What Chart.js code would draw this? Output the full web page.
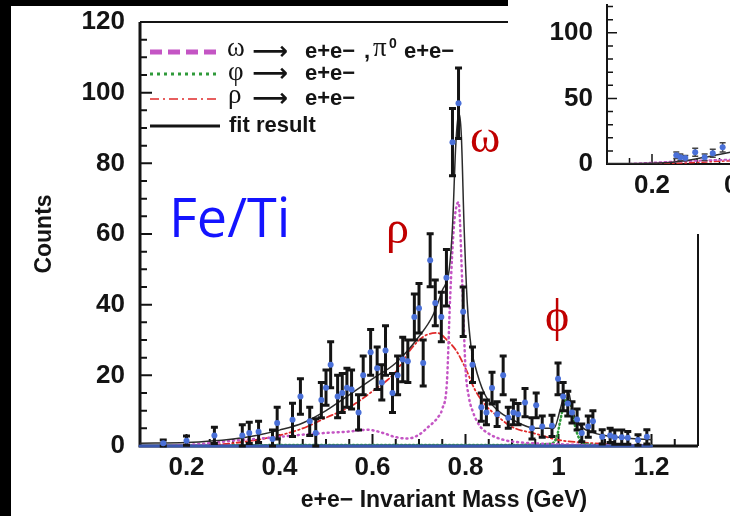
<!DOCTYPE html>
<html>
<head>
<meta charset="utf-8">
<script src="https://cdn.jsdelivr.net/npm/chart.js@4.4.1/dist/chart.umd.min.js"></script>
<style>
  html, body { margin: 0; padding: 0; background: #000; overflow: hidden; }
  #wrap { position: relative; width: 730px; height: 516px; overflow: hidden; }
  #main { position: absolute; left: 0; top: 0; }
  #inset { position: absolute; left: 508px; top: 0; }
</style>
</head>
<body>
<div id="wrap">
  <canvas id="main" width="730" height="516" style="width:730px;height:516px"></canvas>
  <canvas id="inset" width="283" height="234" style="width:283px;height:234px"></canvas>
</div>
<script>
// ---- Fe/Ti e+e- mass spectrum ----
const massBins = [
  0.150, 0.200, 0.260, 0.320, 0.335, 0.355, 0.385, 0.395, 0.428, 0.445,
  0.465, 0.478, 0.490, 0.500, 0.510, 0.525, 0.535, 0.545, 0.555, 0.570,
  0.580, 0.596, 0.610, 0.620, 0.628, 0.643, 0.654, 0.665, 0.676, 0.690,
  0.700, 0.709, 0.724, 0.735, 0.748, 0.759, 0.772, 0.785, 0.795, 0.815,
  0.834, 0.845, 0.857, 0.868, 0.881, 0.892, 0.903, 0.913, 0.928, 0.943,
  0.952, 0.965, 0.986, 0.999, 1.010, 1.020, 1.029, 1.040, 1.050, 1.064,
  1.074, 1.094, 1.111, 1.121, 1.136, 1.149, 1.171, 1.190
];
const counts = [
  0.8, 1.5, 3, 3, 3.7, 4, 2, 6.5, 7.4, 14,
  7, 3.7, 13, 16.5, 23, 14, 15, 16.5, 16, 9.5,
  20, 26.5, 22, 18, 27, 15, 20, 24.5, 24, 36.5,
  39, 23.5, 52.6, 40.5, 36.5, 47.6, 86, 97, 38, 23,
  11, 9.5, 16.4, 9, 20, 8, 9.5, 9, 12.3, 5,
  11.5, 5.5, 5.7, 19, 14, 12, 9.5, 7.5, 3.7, 5.5,
  7, 2.6, 3, 2.5, 2.5, 2.3, 1.7, 2.6
];
const countErrs = [
  0.9, 1.3, 2.3, 3, 3, 3, 2.5, 4.5, 4.7, 5,
  4, 4, 5, 5, 6.5, 6, 5.5, 5.5, 5.5, 5,
  5.5, 6.5, 6, 5, 7, 5.5, 5.5, 6.3, 6, 6.5,
  7, 6.5, 7.5, 6.5, 7, 8, 9.5, 10, 7, 5,
  4, 3.5, 4.5, 3.5, 5.5, 3, 3.5, 3, 4, 3,
  3.5, 3, 3, 4.5, 4, 3.5, 3, 3, 2.5, 3,
  3, 2, 2, 2, 2, 1.8, 1.5, 2
];

// fit components
const omegaMass = [0.15, 0.2, 0.25, 0.3, 0.35, 0.4, 0.45, 0.5, 0.55, 0.59, 0.62, 0.65, 0.675, 0.70, 0.72, 0.74, 0.75, 0.76, 0.767, 0.775, 0.785, 0.793, 0.80, 0.807, 0.815, 0.83, 0.85, 0.88, 0.92, 1.0, 1.1, 1.2];
const omegaCurve = [0, 0.3, 0.8, 1.5, 2, 2.6, 3.2, 3.7, 4.1, 4.6, 3.8, 2.5, 2.1, 3.2, 5.4, 8, 10.5, 18, 42, 62, 69, 46, 22, 14, 10, 5.8, 3.5, 1.8, 1, 0.5, 0.2, 0.1];
const rhoMass = [0.25, 0.3, 0.35, 0.4, 0.45, 0.5, 0.55, 0.6, 0.65, 0.68, 0.71, 0.74, 0.76, 0.78, 0.80, 0.82, 0.84, 0.87, 0.9, 0.95, 1.0, 1.05, 1.1, 1.15, 1.2];
const rhoCurve = [0.2, 0.8, 1.7, 3, 5, 8, 11, 15.5, 21, 27, 31, 32, 30, 27, 22, 16, 12, 8.3, 5.4, 3.5, 1.7, 1, 0.6, 0.3, 0.2];
const phiMass = [0.3, 0.5, 0.7, 0.9, 0.98, 0.995, 1.005, 1.012, 1.02, 1.028, 1.035, 1.045, 1.06, 1.1, 1.2];
const phiCurve = [0.2, 0.3, 0.3, 0.3, 0.6, 2, 8, 12, 13.5, 11, 6, 2, 0.6, 0.2, 0.1];
const fitMass = [0.1, 0.2, 0.3, 0.35, 0.4, 0.45, 0.5, 0.55, 0.6, 0.65, 0.7, 0.73, 0.75, 0.765, 0.772, 0.779, 0.785, 0.791, 0.797, 0.804, 0.812, 0.82, 0.84, 0.87, 0.9, 0.95, 0.99, 1.005, 1.015, 1.022, 1.03, 1.045, 1.07, 1.1, 1.15, 1.2];
const fitCurve = [0.8, 1, 2, 3, 4.5, 6.5, 10, 14.5, 19, 23.5, 31, 37, 44, 50, 62, 85, 94, 88, 62, 40, 28, 23, 15, 10, 7.5, 5, 5, 11, 15.5, 15, 10, 6, 4, 3, 2.2, 1.8];
const bgMass = [0.1, 1.2];
const bgCurve = [0, 0];

const xTickValues = [0.2, 0.4, 0.6, 0.8, 1.0, 1.2];
const yTickValues = [0, 20, 40, 60, 80, 100, 120];

// inset (second target, only its lower-left corner is visible)
const insetBins = [0.254, 0.263, 0.274, 0.296, 0.317, 0.335, 0.357];
const insetCounts = [6.7, 5.2, 4.5, 9, 5.2, 8.2, 12.7];
const insetErrs = [2.5, 2.5, 2, 3, 2.5, 3, 3.5];
const insetFitMass = [0.1, 0.2, 0.25, 0.3, 0.36, 0.45];
const insetFitCurve = [0.3, 0.6, 1.5, 4, 8, 14];
const insetOmegaMass = [0.15, 0.2, 0.25, 0.3, 0.36, 0.45];
const insetOmegaCurve = [0.2, 1, 1.8, 2.5, 3.2, 4];
const insetRhoMass = [0.2, 0.25, 0.3, 0.36, 0.45];
const insetRhoCurve = [0.1, 0.5, 1.2, 2.2, 4];
const insetXTicks = [0.2, 0.4];
const insetYTicks = [0, 50, 100];

const pts = (xs, ys) => xs.map((x, i) => ({ x: x, y: ys[i] }));

const INK = '#141414';
const PINK = '#c455c4';
const GREEN = '#2f9a3a';
const RED = '#e02a2a';
const BLUE_LINE = '#3a58b0';
const DOT = '#4a70d8';

// error bars drawn under the dots of the dataset that carries them
const errorBars = {
    id: 'errorBars',
    beforeDatasetDraw(chart, args) {
        const ds = chart.data.datasets[args.index];
        if (!ds.errors) return;
        const x = chart.scales.x, y = chart.scales.y;
        const ctx = chart.ctx;
        ctx.save();
        ctx.strokeStyle = ds.errorColor;
        ctx.lineWidth = ds.errorWidth;
        ctx.beginPath();
        ds.data.forEach((p, i) => {
            const px = x.getPixelForValue(p.x);
            const top = y.getPixelForValue(p.y + ds.errors[i]);
            const bot = y.getPixelForValue(Math.max(0, p.y - ds.errors[i]));
            ctx.moveTo(px, top); ctx.lineTo(px, bot);
            ctx.moveTo(px - ds.capSize, top); ctx.lineTo(px + ds.capSize, top);
            ctx.moveTo(px - ds.capSize, bot); ctx.lineTo(px + ds.capSize, bot);
        });
        ctx.stroke();
        ctx.restore();
    }
};

// background, axis frame and inward ROOT-style ticks
function framePlugin(cfg) {
    return {
        id: 'frame',
        beforeDraw(chart) {
            const ctx = chart.ctx;
            ctx.save();
            cfg.background(ctx, chart.width, chart.height);
            ctx.restore();
        },
        beforeDatasetsDraw(chart) {
            const ctx = chart.ctx, a = chart.chartArea;
            const x = chart.scales.x, y = chart.scales.y;
            ctx.save();
            ctx.strokeStyle = INK;
            ctx.lineWidth = cfg.tickWidth;
            ctx.beginPath();
            const ny = Math.floor((y.max - y.min) / cfg.yMinor + 1e-6);
            for (let i = 1; i <= ny; i++) {
                const v = y.min + i * cfg.yMinor;
                const major = Math.abs(v / cfg.yMajor - Math.round(v / cfg.yMajor)) < 1e-6;
                const py = y.getPixelForValue(v);
                ctx.moveTo(a.left, py);
                ctx.lineTo(a.left + (major ? cfg.majorLen : cfg.minorLen), py);
            }
            const x0 = Math.ceil(x.min / cfg.xMinor - 1e-6);
            const x1 = Math.floor(x.max / cfg.xMinor + 1e-6);
            for (let k = x0; k <= x1; k++) {
                const v = k * cfg.xMinor;
                const major = Math.abs(v / cfg.xMajor - Math.round(v / cfg.xMajor)) < 1e-6;
                const px = x.getPixelForValue(v);
                ctx.moveTo(px, a.bottom);
                ctx.lineTo(px, a.bottom - (major ? cfg.majorLen : cfg.minorLen));
            }
            ctx.stroke();
            ctx.lineWidth = cfg.axisWidth;
            ctx.beginPath();
            ctx.moveTo(a.left, a.top); ctx.lineTo(a.left, a.bottom); ctx.lineTo(a.right, a.bottom);
            ctx.stroke();
            if (cfg.box) {
                ctx.lineWidth = 2;
                ctx.beginPath();
                ctx.moveTo(a.left, a.top); ctx.lineTo(a.right, a.top); ctx.lineTo(a.right, a.bottom);
                ctx.stroke();
            }
            ctx.restore();
        }
    };
}

function drawParts(ctx, y, parts) {
    parts.forEach(p => {
        ctx.font = p.font;
        ctx.fillText(p.t, p.x, y + (p.dy || 0));
    });
}

// legend, x-axis title and the hand-written labels
const decorations = {
    id: 'decorations',
    afterDraw(chart) {
        const ctx = chart.ctx;
        ctx.save();
        const sans = 'bold 22px "Liberation Sans", Arial, sans-serif';
        const serif = '27px "Liberation Serif", "DejaVu Serif", serif';
        const arrow = 'bold 25px "DejaVu Sans", sans-serif';
        const rows = [
            { y: 52, color: PINK, width: 5, dash: [12, 6] },
            { y: 74, color: GREEN, width: 3, dash: [3, 4] },
            { y: 99, color: RED, width: 1.5, dash: [9, 4, 2, 4] },
            { y: 126, color: INK, width: 3, dash: [] }
        ];
        rows.forEach(r => {
            ctx.strokeStyle = r.color;
            ctx.lineWidth = r.width;
            ctx.setLineDash(r.dash);
            ctx.beginPath();
            ctx.moveTo(150, r.y); ctx.lineTo(220, r.y);
            ctx.stroke();
        });
        ctx.setLineDash([]);
        ctx.fillStyle = INK;
        ctx.textBaseline = 'middle';
        ctx.textAlign = 'left';
        drawParts(ctx, 52, [
            { t: 'ω', x: 227, font: serif, dy: -3 },
            { t: '⟶', x: 252, font: arrow },
            { t: 'e+e−', x: 305, font: sans },
            { t: ',', x: 364, font: sans },
            { t: 'π', x: 373, font: serif, dy: -3 },
            { t: '0', x: 389, font: 'bold 14px "Liberation Sans", sans-serif', dy: -8 },
            { t: 'e+e−', x: 404, font: sans }
        ]);
        drawParts(ctx, 74, [
            { t: 'φ', x: 228, font: serif, dy: -1 },
            { t: '⟶', x: 252, font: arrow },
            { t: 'e+e−', x: 305, font: sans }
        ]);
        drawParts(ctx, 99, [
            { t: 'ρ', x: 228, font: serif, dy: -3 },
            { t: '⟶', x: 252, font: arrow },
            { t: 'e+e−', x: 305, font: sans }
        ]);
        drawParts(ctx, 126, [{ t: 'fit result', x: 229, font: sans }]);

        // x-axis title
        ctx.textAlign = 'center';
        ctx.font = 'bold 23px "Liberation Sans", Arial, sans-serif';
        ctx.fillText('e+e− Invariant Mass (GeV)', 444, 501);

        // annotations
        ctx.textAlign = 'left';
        ctx.textBaseline = 'alphabetic';
        ctx.fillStyle = '#1414ff';
        ctx.font = '54px "Open Sans", "Noto Sans", sans-serif';
        ctx.fillText('Fe/Ti', 169, 237);
        ctx.fillStyle = '#c00000';
        ctx.font = '46px "Liberation Serif", "DejaVu Serif", serif';
        ctx.fillText('ρ', 386, 243);
        ctx.fillText('ω', 470, 152);
        ctx.fillText('ϕ', 545, 331);
        ctx.restore();
    }
};

const tickFont = { family: '"Liberation Sans", Arial, sans-serif', size: 26, weight: 'bold' };

// the fixed sizes keep the plot frame where the original one is
function noLabelPadding(s) {
    s.paddingTop = 0; s.paddingBottom = 0; s.paddingLeft = 0; s.paddingRight = 0;
}

function massAxis(min, max, ticks, height) {
    return {
        type: 'linear', min: min, max: max,
        grid: { display: false, drawTicks: false },
        border: { display: false },
        afterBuildTicks: s => { s.ticks = ticks.map(v => ({ value: v })); },
        afterFit: s => { s.height = height; noLabelPadding(s); },
        ticks: {
            color: INK, font: tickFont, padding: 6, maxRotation: 0, autoSkip: false,
            callback: v => (v === 1 ? '1' : v.toFixed(1))
        }
    };
}

function countAxis(max, ticks, width, pad) {
    return {
        type: 'linear', min: 0, max: max,
        grid: { display: false, drawTicks: false },
        border: { display: false },
        afterBuildTicks: s => { s.ticks = ticks.map(v => ({ value: v })); },
        afterFit: s => { s.width = width; noLabelPadding(s); },
        ticks: { color: INK, font: tickFont, padding: pad, callback: v => String(v) }
    };
}

const curve = (label, data, color, width, dash, order) => ({
    label: label, data: data, showLine: true, borderColor: color, borderWidth: width,
    borderDash: dash, borderCapStyle: 'round', pointRadius: 0, fill: false,
    cubicInterpolationMode: 'monotone', order: order
});

// 1. Main spectrum
new Chart(document.getElementById('main'), {
    type: 'scatter',
    data: {
        datasets: [
            {
                label: 'data', data: pts(massBins, counts), errors: countErrs,
                errorColor: INK, errorWidth: 3, capSize: 3.5,
                pointRadius: 3, pointBackgroundColor: DOT, pointBorderWidth: 0,
                clip: false, order: 0
            },
            curve('fit result', pts(fitMass, fitCurve), '#2b2b2b', 1.5, [], 1),
            Object.assign(curve('background', pts(bgMass, bgCurve), BLUE_LINE, 3, [], 2), { clip: 4 }),
            curve('ω → e+e−, π0e+e−', pts(omegaMass, omegaCurve), PINK, 2.5, [1, 4], 3),
            curve('φ → e+e−', pts(phiMass, phiCurve), GREEN, 2.5, [1, 3], 4),
            curve('ρ → e+e−', pts(rhoMass, rhoCurve), RED, 1.8, [6, 3, 1.5, 3], 5)
        ]
    },
    options: {
        responsive: false,
        animation: false,
        events: [],
        devicePixelRatio: 1,
        layout: { padding: { top: 22, right: 32, left: 0, bottom: 0 } },
        plugins: { legend: { display: false }, tooltip: { enabled: false } },
        scales: {
            x: massAxis(0.1, 1.3, xTickValues, 70),
            y: Object.assign(countAxis(120, yTickValues, 140, 15), {
                title: {
                    display: true, text: 'Counts', color: INK,
                    font: { family: '"Liberation Sans", Arial, sans-serif', size: 23, weight: 'bold' },
                    padding: { top: 31, bottom: 0 }
                }
            })
        }
    },
    plugins: [
        framePlugin({
            background: (ctx, w, h) => {
                ctx.fillStyle = '#000'; ctx.fillRect(0, 0, w, h);
                ctx.fillStyle = '#fff'; ctx.fillRect(11, 6, w - 11, h - 6);
            },
            yMinor: 5, yMajor: 20, xMinor: 0.05, xMajor: 0.2,
            majorLen: 12, minorLen: 7, tickWidth: 2, axisWidth: 3, box: true
        }),
        errorBars,
        decorations
    ]
});

// 2. Inset (neighbouring panel peeking in at the top right)
new Chart(document.getElementById('inset'), {
    type: 'scatter',
    data: {
        datasets: [
            {
                label: 'data', data: pts(insetBins, insetCounts), errors: insetErrs,
                errorColor: '#444', errorWidth: 1.5, capSize: 3,
                pointRadius: 3, pointBackgroundColor: DOT, pointBorderWidth: 0,
                clip: false, order: 0
            },
            curve('fit', pts(insetFitMass, insetFitCurve), '#2b2b2b', 1.5, [], 1),
            curve('ω', pts(insetOmegaMass, insetOmegaCurve), PINK, 2, [2, 3], 2),
            curve('ρ', pts(insetRhoMass, insetRhoCurve), RED, 1.5, [5, 3, 1.5, 3], 3)
        ]
    },
    options: {
        responsive: false,
        animation: false,
        events: [],
        devicePixelRatio: 1,
        layout: { padding: 0 },
        plugins: { legend: { display: false }, tooltip: { enabled: false } },
        scales: {
            x: massAxis(0.1, 0.5, insetXTicks, 70),
            y: countAxis(122, insetYTicks, 99, 14)
        }
    },
    plugins: [
        framePlugin({
            background: (ctx, w, h) => { ctx.fillStyle = '#fff'; ctx.fillRect(0, 0, w, h); },
            yMinor: 10, yMajor: 50, xMinor: 0.05, xMajor: 0.2,
            majorLen: 10, minorLen: 6, tickWidth: 1.5, axisWidth: 2, box: false
        }),
        errorBars
    ]
});
</script>
</body>
</html>
